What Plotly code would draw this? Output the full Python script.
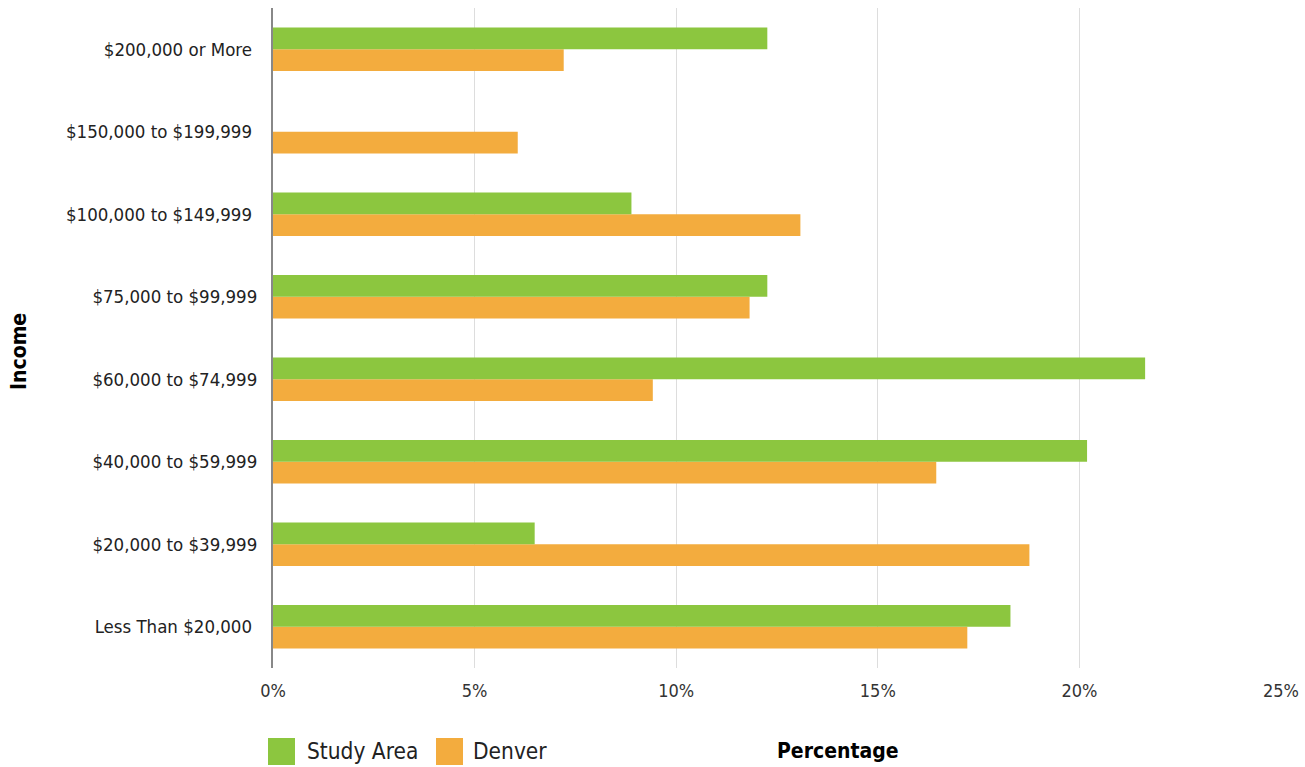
import plotly.graph_objects as go

# Household income distribution, share of households (%)
income_brackets = [
    "Less Than $20,000 ",
    "$20,000 to $39,999",
    "$40,000 to $59,999",
    "$60,000 to $74,999",
    "$75,000 to $99,999",
    "$100,000 to $149,999 ",
    "$150,000 to $199,999 ",
    "$200,000 or More ",
]
study_area = [18.29, 6.49, 20.19, 21.63, 12.26, 8.89, 0.0, 12.26]
denver = [17.22, 18.76, 16.45, 9.42, 11.82, 13.08, 6.07, 7.21]
x_ticks = [0, 5, 10, 15, 20, 25]
x_tick_labels = ["0%", "5%", "10%", "15%", "20%", "25%"]

GREEN = "#8CC63F"
ORANGE = "#F3AC3E"
FONT = "Liberation Sans Narrow, DejaVu Sans Condensed, Roboto, sans-serif"

fig = go.Figure()
# Denver is added first so the Study Area bar sits above it in each group
fig.add_trace(go.Bar(y=income_brackets, x=denver, orientation="h", name="Denver",
                     marker=dict(color=ORANGE, line=dict(width=0))))
fig.add_trace(go.Bar(y=income_brackets, x=study_area, orientation="h", name="Study Area",
                     marker=dict(color=GREEN, line=dict(width=0))))

fig.update_layout(
    width=1305, height=767,
    margin=dict(l=273, r=24, t=8, b=99, autoexpand=False),
    paper_bgcolor="white", plot_bgcolor="white",
    barmode="group", bargap=0.47, bargroupgap=0.0,
    showlegend=False,
    font=dict(family=FONT, size=18, color="#222222"),
    xaxis=dict(range=[0, 25], tickvals=x_ticks, ticktext=x_tick_labels,
               showgrid=True, gridcolor="#dddddd", gridwidth=1,
               zeroline=False, showline=False, ticks="",
               ticklabelstandoff=10, automargin=False,
               tickfont=dict(size=18, color="#333333")),
    yaxis=dict(showgrid=False, zeroline=False, showline=True,
               linecolor="#888888", linewidth=2, ticks="",
               ticklabelstandoff=10, automargin=False,
               tickfont=dict(size=18.5, color="#222222")),
)

# Axis titles
fig.add_annotation(text="<b>Income</b>", xref="paper", yref="paper",
                   x=-254 / 1008, y=(668 - 352) / 660, xanchor="center", yanchor="middle",
                   textangle=-90, showarrow=False, font=dict(size=21, color="#000000"))
fig.add_annotation(text="<b>Percentage</b>", xref="paper", yref="paper",
                   x=565 / 1008, y=-83 / 660, xanchor="center", yanchor="middle",
                   showarrow=False, font=dict(size=21, color="#000000"))

# Legend swatches and labels
fig.add_shape(type="rect", xref="paper", yref="paper",
              x0=-5 / 1008, x1=22 / 1008, y0=-97 / 660, y1=-70 / 660,
              fillcolor=GREEN, line=dict(width=0))
fig.add_shape(type="rect", xref="paper", yref="paper",
              x0=163 / 1008, x1=190 / 1008, y0=-97 / 660, y1=-70 / 660,
              fillcolor=ORANGE, line=dict(width=0))
fig.add_annotation(text="Study Area", xref="paper", yref="paper",
                   x=32 / 1008, y=-83 / 660, xanchor="left", yanchor="middle",
                   showarrow=False, font=dict(size=22.5, color="#222222"))
fig.add_annotation(text="Denver", xref="paper", yref="paper",
                   x=198 / 1008, y=-83 / 660, xanchor="left", yanchor="middle",
                   showarrow=False, font=dict(size=22.5, color="#222222"))

fig.write_html("out.html")
